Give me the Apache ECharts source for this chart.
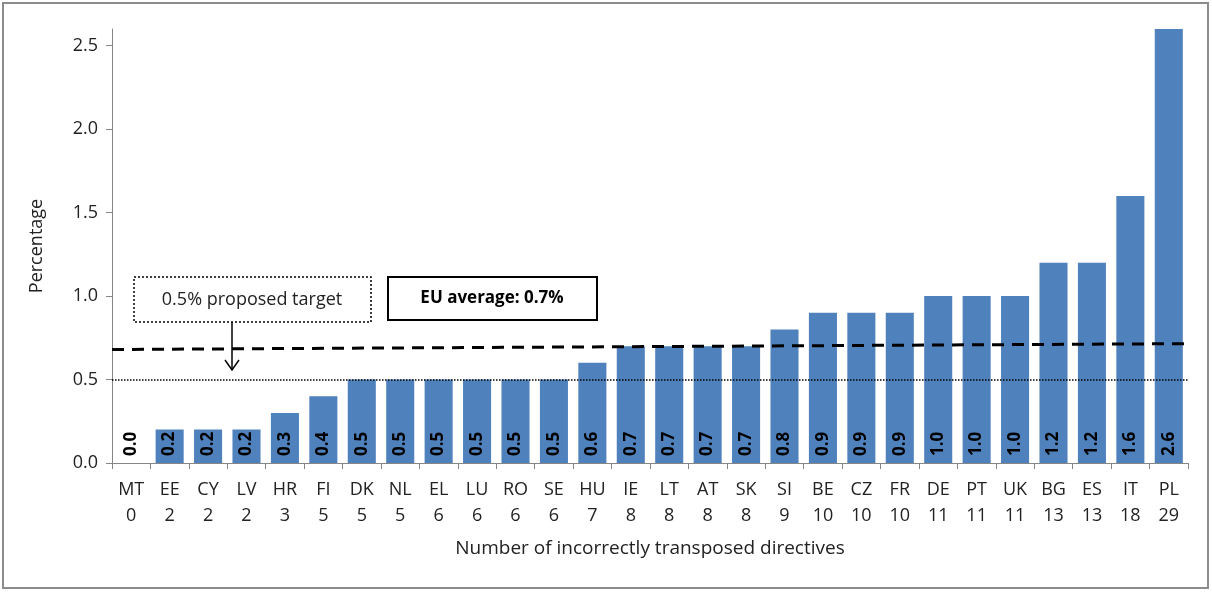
<!DOCTYPE html>
<html>
<head>
<meta charset="utf-8">
<script src="https://cdn.jsdelivr.net/npm/echarts@6/dist/echarts.min.js"></script>
<style>
  html, body { margin: 0; padding: 0; background: #fff; }
  #chart { width: 1212px; height: 592px; }
</style>
</head>
<body>
<div id="chart"></div>
<script>
// countries and number of incorrectly transposed directives
const countries = ['MT', 'EE', 'CY', 'LV', 'HR', 'FI', 'DK', 'NL', 'EL', 'LU', 'RO', 'SE', 'HU', 'IE',
  'LT', 'AT', 'SK', 'SI', 'BE', 'CZ', 'FR', 'DE', 'PT', 'UK', 'BG', 'ES', 'IT', 'PL'];
const directives = [0, 2, 2, 2, 3, 5, 5, 5, 6, 6, 6, 6, 7, 8, 8, 8, 8, 9, 10, 10, 10, 11, 11, 11, 13, 13, 18, 29];
// transposition deficit, %
const percentage = [0.0, 0.2, 0.2, 0.2, 0.3, 0.4, 0.5, 0.5, 0.5, 0.5, 0.5, 0.5, 0.6, 0.7,
  0.7, 0.7, 0.7, 0.8, 0.9, 0.9, 0.9, 1.0, 1.0, 1.0, 1.2, 1.2, 1.6, 2.6];
const targetValue = 0.5;
// EU average trend line (start, end)
const averageLine = [[0, 0.68], [1, 0.715]];

const font = '"Open Sans", "Liberation Sans", sans-serif';
const chart = echarts.init(document.getElementById('chart'));

chart.setOption({
  animation: false,
  textStyle: { fontFamily: font },
  grid: { left: 112, right: 24, top: 29, bottom: 129 },
  xAxis: [{
    type: 'category',
    data: countries.map((c, i) => c + '\n' + directives[i]),
    name: 'Number of incorrectly transposed directives',
    nameLocation: 'middle',
    nameGap: 76,
    nameTextStyle: { fontSize: 19, color: '#222', fontFamily: font },
    axisLine: { lineStyle: { color: '#868686' } },
    axisTick: { show: true, length: 6, lineStyle: { color: '#868686' } },
    axisLabel: { color: '#222', fontSize: 18, lineHeight: 26, margin: 14, interval: 0, fontFamily: font }
  }, {
    type: 'value',
    min: 0,
    max: 1,
    show: false
  }],
  yAxis: {
    type: 'value',
    min: 0,
    max: 2.6,
    interval: 0.5,
    name: 'Percentage',
    nameLocation: 'middle',
    nameGap: 66,
    nameTextStyle: { fontSize: 18, color: '#222', fontFamily: font },
    splitLine: { show: false },
    axisLine: { show: true, lineStyle: { color: '#868686' } },
    axisTick: { show: true, length: 6, lineStyle: { color: '#868686' } },
    axisLabel: {
      color: '#222', fontSize: 18, margin: 14, showMaxLabel: false, fontFamily: font,
      formatter: v => v.toFixed(1)
    }
  },
  series: [{
    type: 'bar',
    data: percentage,
    barCategoryGap: '27%',
    itemStyle: { color: '#4f81bd' },
    label: {
      show: true,
      position: 'insideBottom',
      rotate: 90,
      align: 'left',
      verticalAlign: 'middle',
      distance: 7,
      color: '#000',
      fontWeight: 'bold',
      fontSize: 17,
      fontFamily: font,
      formatter: p => p.value.toFixed(1)
    },
    markLine: {
      silent: true,
      symbol: 'none',
      label: { show: false },
      lineStyle: { color: '#000', type: 'dotted', width: 1.5 },
      data: [{ yAxis: targetValue }]
    }
  }, {
    type: 'line',
    xAxisIndex: 1,
    data: averageLine,
    symbol: 'none',
    silent: true,
    lineStyle: { color: '#000', type: [12, 8], width: 3 }
  }],
  graphic: [{
    type: 'rect',
    shape: { x: 3, y: 3, width: 1205, height: 585 },
    style: { fill: 'none', stroke: '#8c8c8c', lineWidth: 2 }
  }, {
    type: 'rect',
    shape: { x: 134, y: 277, width: 237, height: 45 },
    style: { fill: '#fff', stroke: '#000', lineWidth: 1.5, lineDash: [2, 2] }
  }, {
    type: 'text',
    x: 252, y: 300,
    style: { text: '0.5% proposed target', fontSize: 18, fontFamily: font, fill: '#222', align: 'center', verticalAlign: 'middle' }
  }, {
    type: 'rect',
    shape: { x: 388, y: 277, width: 209, height: 43 },
    style: { fill: '#fff', stroke: '#000', lineWidth: 2 }
  }, {
    type: 'text',
    x: 492, y: 298,
    style: { text: 'EU average: 0.7%', fontSize: 17, fontWeight: 'bold', fontFamily: font, fill: '#000', align: 'center', verticalAlign: 'middle' }
  }, {
    type: 'line',
    shape: { x1: 232, y1: 322, x2: 232, y2: 370 },
    style: { stroke: '#000', lineWidth: 1.5 }
  }, {
    type: 'polyline',
    shape: { points: [[225, 360], [232, 370], [239, 360]] },
    style: { stroke: '#000', lineWidth: 1.5, fill: 'none' }
  }]
});
</script>
</body>
</html>
